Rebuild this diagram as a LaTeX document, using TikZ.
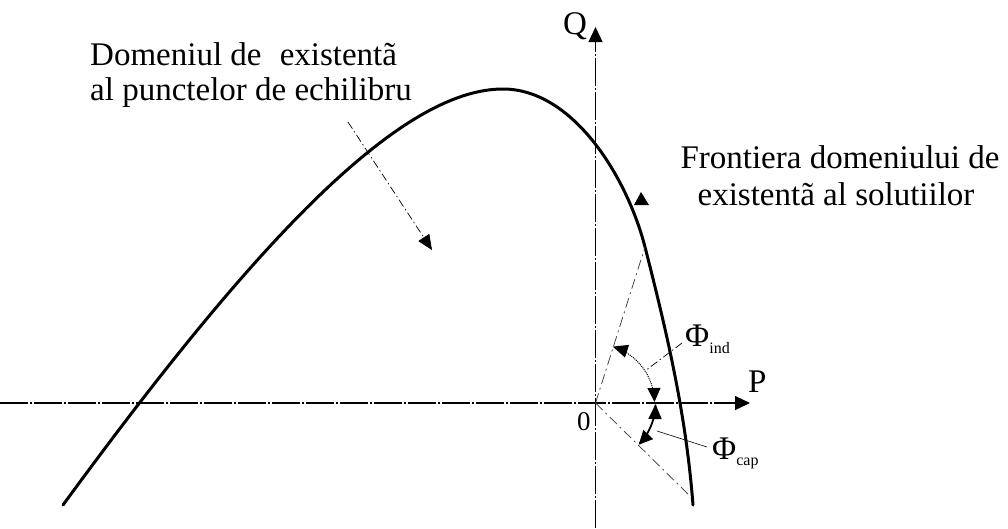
\documentclass[tikz,border=0pt]{standalone}
\usepackage{fontspec}
\setmainfont{Liberation Serif}
\usetikzlibrary{arrows.meta}
\begin{document}
\begin{tikzpicture}[x=1pt,y=-1pt,
  txt/.style={inner sep=0pt, font=\fontsize{33}{36}\selectfont, anchor=base west},
  ctxt/.style={inner sep=0pt, font=\fontsize{33}{36}\selectfont, anchor=base},
  axis/.style={line width=1.1pt, dash pattern=on 28pt off 2pt on 2pt off 2pt, -{Triangle[length=15pt,width=14pt]}},
  curve/.style={line width=3pt, line cap=round, line join=round},
  limit/.style={line width=0.7pt, dash pattern=on 10pt off 4pt on 2pt off 4pt, black!80},
  leader/.style={line width=0.7pt, dash pattern=on 8pt off 3pt on 1.5pt off 3pt},
  tip/.style={-{Triangle[length=15pt,width=13pt]}},
  bothtips/.style={{Triangle[length=15pt,width=13pt]}-{Triangle[length=14pt,width=13pt]}},
]
\useasboundingbox (0,0) rectangle (1008,528);
\coordinate (O) at (595.5,403);
\coordinate (xs) at (0,403);
\coordinate (xe) at (750,403);
\coordinate (ys) at (595.5,528);
\coordinate (ye) at (595.5,27);
\draw[axis] (xs) -- (xe);
\draw[axis] (ys) -- (ye);
% boundary curve
\coordinate (C0) at (63,505);
\coordinate (Top) at (503,89);
\coordinate (A) at (645,247);
\coordinate (C3) at (693,505);
\draw[curve] (C0) .. controls (255,242) and (400,89) .. (Top)
  .. controls (573,89) and (627,177) .. (A)
  .. controls (668,337) and (686,415) .. (C3);
\coordinate (B) at (691,497);
\draw[limit] (O) -- (A);
\draw[limit] (O) -- (B);
% angle arcs
\draw[densely dotted, line width=1pt, bothtips] plot[domain=73:1, samples=40] ({595.5+59*cos(\x)},{403-59*sin(\x)});
\draw[line width=1.8pt, bothtips] plot[domain=-1:-44, samples=40] ({595.5+60*cos(\x)},{403-60*sin(\x)});
% leaders
\coordinate (l1s) at (348,122);
\coordinate (l1e) at (432,250);
\draw[leader, tip] (l1s) -- (l1e);
\fill (641,192) -- (634,205) -- (649,205) -- cycle;
\coordinate (lis) at (682,343);
\coordinate (lie) at (645,371);
\draw[leader] (lis) -- (lie);
\coordinate (lcs) at (657,431);
\coordinate (lce) at (707,447);
\draw[line width=0.6pt] (lcs) -- (lce);
% labels
\node[txt] (d1) at (90,65) {Domeniul de\hspace{0.3em} existentã};
\node[txt] (d2) at (90,100) {al punctelor de echilibru};
\node[ctxt] (f1) at (840,168) {Frontiera domeniului de};
\node[ctxt] (f2) at (836,205) {existentã al solutiilor};
\node[txt] (Q) at (563,34) {Q};
\node[txt] (P) at (748,392) {P};
\node[txt, font=\fontsize{27}{30}\selectfont] (zero) at (577,430) {0};
\node[txt] (phiind) at (685,346) {Φ\raisebox{-7pt}{\fontsize{16}{16}\selectfont ind}};
\node[txt] (phicap) at (712,459) {Φ\raisebox{-6pt}{\fontsize{16}{16}\selectfont cap}};
\end{tikzpicture}
\end{document}
